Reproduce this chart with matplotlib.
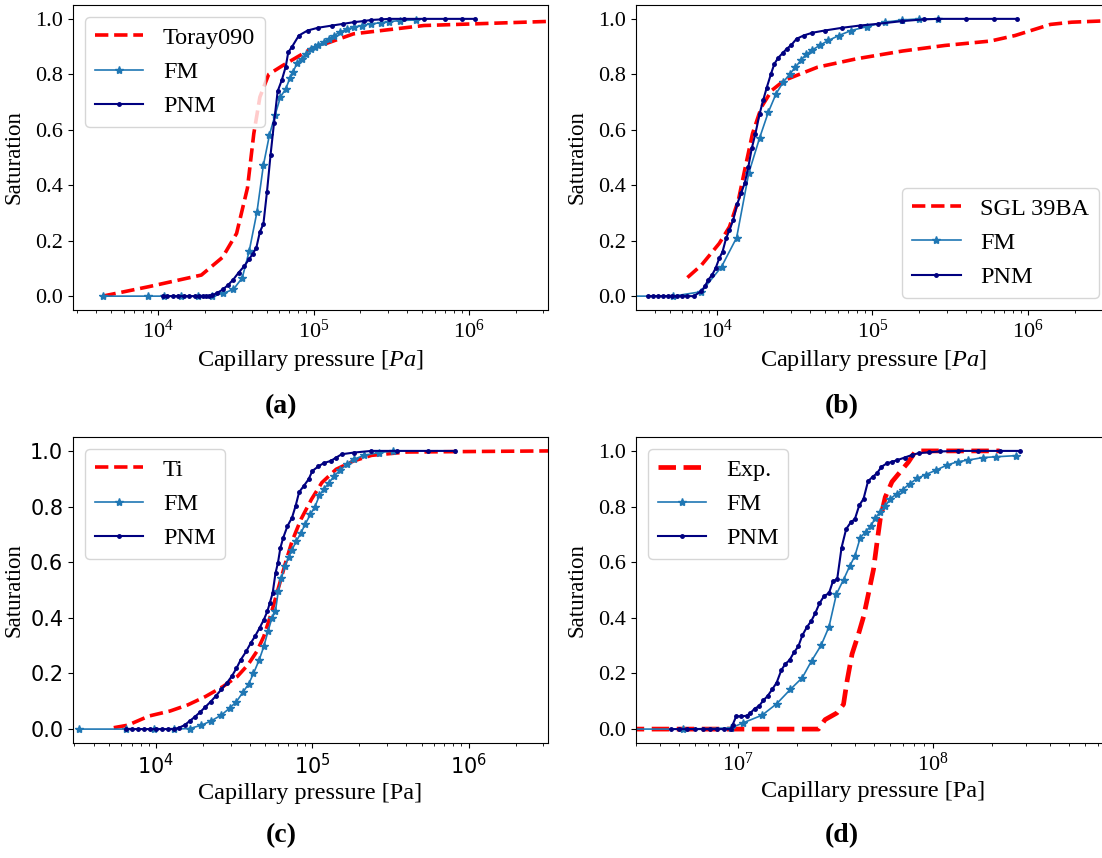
import matplotlib
matplotlib.use("Agg")
import matplotlib.pyplot as plt

plt.rcParams['font.family'] = ['Liberation Serif', 'DejaVu Serif']
plt.rcParams['mathtext.fontset'] = 'custom'
plt.rcParams['mathtext.rm'] = 'Liberation Serif'
plt.rcParams['mathtext.it'] = 'Liberation Serif:italic'

# ---- (a) Toray090 ----
toray_p = [4.4e3, 8.7e3, 1.9e4, 2.6e4, 3.2e4, 3.76e4, 4.13e4, 4.52e4, 5.15e4, 6.35e4,
           9.66e4, 1.81e5, 5.13e5, 3.3e6]
toray_s = [0.0, 0.034, 0.076, 0.14, 0.226, 0.39, 0.586, 0.718, 0.80, 0.832,
           0.892, 0.946, 0.976, 0.991]
fm_a_p = [4.4e3, 8.6e3, 1.1e4, 1.4e4, 1.8e4, 2.23e4, 2.61e4, 3.05e4, 3.48e4, 3.86e4,
          4.33e4, 4.76e4, 5.21e4, 5.67e4, 6.13e4, 6.63e4, 7.06e4, 7.4e4, 7.84e4,
          8.4e4, 8.93e4, 9.66e4, 1.02e5, 1.07e5, 1.16e5, 1.26e5, 1.36e5, 1.47e5,
          1.63e5, 1.81e5, 2.05e5, 2.35e5, 2.7e5, 3.06e5, 3.6e5, 4.54e5]
fm_a_s = [0.0, 0.0, 0.0, 0.0, 0.0, 0.0, 0.01, 0.024, 0.066, 0.163,
          0.304, 0.472, 0.582, 0.655, 0.718, 0.748, 0.787, 0.81, 0.84,
          0.856, 0.874, 0.892, 0.898, 0.904, 0.916, 0.928, 0.94, 0.952,
          0.962, 0.97, 0.976, 0.982, 0.986, 0.99, 0.994, 0.996]
pnm_a_p = [1.08e4, 1.15e4, 1.25e4, 1.35e4, 1.47e4, 1.59e4, 1.72e4, 1.84e4, 1.95e4, 2.05e4,
           2.12e4, 2.23e4, 2.41e4, 2.61e4, 2.82e4, 3.05e4, 3.3e4, 3.57e4, 3.86e4, 4.07e4,
           4.29e4, 4.52e4, 4.76e4, 5.02e4, 5.29e4, 5.57e4, 5.88e4, 6.26e4, 6.63e4, 6.88e4,
           7.25e4, 8.05e4, 9.16e4, 1.07e5, 1.32e5, 1.55e5, 1.81e5, 2.1e5, 2.35e5, 2.7e5,
           3.06e5, 3.8e5, 5.16e5, 7.0e5, 9.0e5, 1.1e6]
pnm_a_s = [0.0, 0.0, 0.0, 0.0, 0.0, 0.0, 0.0, 0.0, 0.0, 0.0,
           0.0, 0.003, 0.012, 0.024, 0.04, 0.06, 0.085, 0.107, 0.134, 0.153,
           0.175, 0.232, 0.26, 0.376, 0.508, 0.624, 0.739, 0.78, 0.828, 0.88,
           0.898, 0.94, 0.958, 0.968, 0.976, 0.982, 0.988, 0.992, 0.996, 0.998,
           1.0, 1.0, 1.0, 1.0, 1.0, 1.0]

# ---- (b) SGL 39BA ----
sgl_p = [6.5e3, 8.0e3, 1.04e4, 1.21e4, 1.38e4, 1.53e4, 1.7e4, 1.94e4, 2.26e4, 2.72e4,
         3.26e4, 4.46e4, 7.91e4, 1.56e5, 2.91e5, 5.73e5, 8.25e5, 1.07e6, 1.39e6, 1.9e6, 3.5e6]
sgl_s = [0.067, 0.112, 0.19, 0.25, 0.346, 0.466, 0.586, 0.682, 0.742, 0.778,
         0.796, 0.826, 0.856, 0.884, 0.904, 0.92, 0.94, 0.96, 0.98, 0.988, 0.994]
fm_b_p = [2.5e3, 5.27e3, 8.0e3, 1.076e4, 1.345e4, 1.61e4, 1.89e4, 2.15e4, 2.41e4, 2.68e4,
          2.94e4, 3.21e4, 3.47e4, 3.76e4, 4.12e4, 4.58e4, 5.21e4, 6.1e4, 7.31e4, 9.25e4,
          1.2e5, 1.56e5, 2.0e5, 2.62e5]
fm_b_s = [0.0, 0.0, 0.016, 0.106, 0.211, 0.444, 0.571, 0.664, 0.73, 0.772,
          0.80, 0.826, 0.85, 0.872, 0.888, 0.904, 0.922, 0.94, 0.958, 0.972,
          0.988, 0.996, 1.0, 1.0]
pnm_b_p = [3.62e3, 3.9e3, 4.2e3, 4.5e3, 4.85e3, 5.2e3, 5.6e3, 6.0e3, 6.5e3, 7.13e3,
           8.0e3, 8.42e3, 8.87e3, 9.35e3, 9.85e3, 1.04e4, 1.092e4, 1.15e4, 1.21e4, 1.277e4,
           1.36e4, 1.439e4, 1.517e4, 1.599e4, 1.684e4, 1.775e4, 1.89e4, 1.99e4, 2.096e4, 2.23e4,
           2.35e4, 2.49e4, 2.65e4, 2.82e4, 3.02e4, 3.26e4, 3.62e4, 4.12e4, 4.95e4, 6.43e4,
           8.34e4, 1.08e5, 1.56e5, 2.13e5, 2.62e5, 4.0e5, 6.0e5, 8.47e5]
pnm_b_s = [0.0, 0.0, 0.0, 0.0, 0.0, 0.0, 0.0, 0.0, 0.0, 0.0,
           0.018, 0.036, 0.06, 0.076, 0.10, 0.136, 0.16, 0.208, 0.238, 0.274,
           0.334, 0.372, 0.408, 0.466, 0.534, 0.586, 0.658, 0.706, 0.751, 0.80,
           0.838, 0.86, 0.876, 0.892, 0.906, 0.928, 0.94, 0.95, 0.958, 0.968,
           0.976, 0.982, 0.992, 0.998, 1.0, 1.0, 1.0, 1.0]

# ---- (c) Ti ----
ti_p = [5.36e3, 6.59e3, 9.01e3, 1.23e4, 1.596e4, 2.07e4, 2.68e4, 3.31e4, 3.87e4, 4.41e4,
        4.89e4, 5.42e4, 6.02e4, 6.68e4, 7.41e4, 8.45e4, 9.87e4, 1.15e5, 1.42e5, 1.84e5,
        2.39e5, 4.03e5, 3.3e6]
ti_s = [0.005, 0.014, 0.047, 0.065, 0.087, 0.117, 0.153, 0.189, 0.231, 0.279,
        0.333, 0.411, 0.501, 0.591, 0.675, 0.754, 0.826, 0.886, 0.934, 0.964,
        0.984, 0.996, 1.0]
fm_c_p = [3.21e3, 6.43e3, 9.75e3, 1.299e4, 1.64e4, 1.95e4, 2.26e4, 2.61e4, 2.95e4, 3.27e4,
          3.59e4, 3.91e4, 4.2e4, 4.57e4, 4.89e4, 5.2e4, 5.51e4, 5.8e4, 6.05e4, 6.34e4,
          6.68e4, 7.04e4, 7.41e4, 7.89e4, 8.45e4, 8.99e4, 9.72e4, 1.04e5, 1.11e5, 1.18e5,
          1.28e5, 1.38e5, 1.5e5, 1.66e5, 1.84e5, 2.15e5, 2.65e5, 3.27e5]
fm_c_s = [0.0, 0.0, 0.0, 0.0, 0.002, 0.014, 0.03, 0.05, 0.075, 0.099,
          0.132, 0.162, 0.20, 0.249, 0.297, 0.351, 0.399, 0.423, 0.495, 0.543,
          0.585, 0.619, 0.645, 0.675, 0.705, 0.736, 0.772, 0.80, 0.84, 0.862,
          0.886, 0.91, 0.93, 0.952, 0.97, 0.984, 0.994, 0.999]
pnm_c_p = [6.43e3, 7.0e3, 7.7e3, 8.4e3, 9.2e3, 1.0e4, 1.09e4, 1.19e4, 1.3e4, 1.4e4,
           1.52e4, 1.64e4, 1.77e4, 1.92e4, 2.07e4, 2.24e4, 2.42e4, 2.62e4, 2.83e4, 3.06e4,
           3.27e4, 3.48e4, 3.77e4, 4.03e4, 4.29e4, 4.59e4, 4.89e4, 5.15e4, 5.34e4, 5.57e4,
           5.81e4, 6.02e4, 6.24e4, 6.51e4, 6.93e4, 7.41e4, 7.81e4, 8.23e4, 8.81e4, 9.46e4,
           1.0e5, 1.09e5, 1.18e5, 1.31e5, 1.42e5, 1.54e5, 1.84e5, 2.39e5, 3.5e5, 5.5e5, 8.24e5]
pnm_c_s = [0.0, 0.0, 0.0, 0.0, 0.0, 0.0, 0.0, 0.0, 0.0, 0.005,
           0.014, 0.029, 0.044, 0.062, 0.08, 0.099, 0.12, 0.143, 0.165, 0.191,
           0.219, 0.249, 0.279, 0.309, 0.333, 0.363, 0.393, 0.423, 0.453, 0.489,
           0.561, 0.597, 0.651, 0.688, 0.73, 0.76, 0.802, 0.852, 0.874, 0.898,
           0.928, 0.944, 0.956, 0.964, 0.976, 0.988, 0.994, 1.0, 1.0, 1.0, 1.0]

# ---- (d) Exp. ----
exp_p = [2.0e6, 2.59e7, 2.8e7, 3.22e7, 3.48e7, 3.63e7, 3.85e7, 4.16e7, 4.41e7, 4.68e7,
         4.96e7, 5.17e7, 5.37e7, 5.7e7, 6.17e7, 6.81e7, 7.51e7, 8.13e7, 8.62e7, 2.2e8]
exp_s = [0.0, 0.0, 0.034, 0.058, 0.089, 0.173, 0.27, 0.343, 0.404, 0.489,
         0.574, 0.671, 0.755, 0.834, 0.889, 0.925, 0.961, 0.998, 1.0, 1.0]
fm_d_p = [2.5e6, 5.22e6, 9.2e6, 1.06e7, 1.33e7, 1.58e7, 1.86e7, 2.14e7, 2.39e7, 2.67e7,
          2.93e7, 3.2e7, 3.48e7, 3.74e7, 3.98e7, 4.24e7, 4.52e7, 4.81e7, 5.07e7, 5.38e7,
          5.69e7, 6.05e7, 6.53e7, 7.0e7, 7.62e7, 8.28e7, 9.2e7, 1.04e8, 1.18e8, 1.34e8,
          1.52e8, 1.8e8, 2.12e8, 2.67e8]
fm_d_s = [0.0, 0.0, 0.004, 0.022, 0.05, 0.091, 0.143, 0.185, 0.246, 0.301,
          0.367, 0.485, 0.537, 0.585, 0.622, 0.688, 0.709, 0.731, 0.758, 0.782,
          0.801, 0.828, 0.846, 0.861, 0.882, 0.901, 0.915, 0.931, 0.949, 0.961,
          0.967, 0.976, 0.979, 0.983]
pnm_d_p = [4.52e6, 5.0e6, 5.5e6, 6.0e6, 6.6e6, 7.2e6, 7.8e6, 8.5e6, 9.2e6, 9.4e6,
           9.8e6, 1.04e7, 1.11e7, 1.16e7, 1.22e7, 1.28e7, 1.35e7, 1.42e7, 1.5e7, 1.58e7,
           1.67e7, 1.75e7, 1.84e7, 1.94e7, 2.04e7, 2.14e7, 2.26e7, 2.38e7, 2.49e7, 2.62e7,
           2.77e7, 2.93e7, 3.07e7, 3.23e7, 3.4e7, 3.59e7, 3.79e7, 3.98e7, 4.19e7, 4.41e7,
           4.65e7, 4.91e7, 5.16e7, 5.45e7, 5.8e7, 6.18e7, 6.58e7, 7.16e7, 7.78e7, 8.46e7,
           9.59e7, 1.09e8, 1.34e8, 1.7e8, 2.2e8, 2.79e8]
pnm_d_s = [0.0, 0.0, 0.0, 0.0, 0.0, 0.0, 0.0, 0.0, 0.0, 0.016,
           0.046, 0.046, 0.048, 0.058, 0.074, 0.082, 0.103, 0.119, 0.143, 0.167,
           0.212, 0.234, 0.248, 0.276, 0.297, 0.337, 0.367, 0.389, 0.416, 0.452,
           0.479, 0.488, 0.531, 0.539, 0.652, 0.719, 0.743, 0.755, 0.804, 0.828,
           0.891, 0.907, 0.919, 0.943, 0.955, 0.961, 0.967, 0.976, 0.985, 0.992,
           0.995, 0.998, 1.0, 1.0, 1.0, 1.0]

W, H = 1102, 858
fig = plt.figure(figsize=(W / 100, H / 100), dpi=100)


def add_panel(left, top, bottom, width=475):
    return fig.add_axes([left / W, 1 - bottom / H, width / W, (bottom - top) / H])


def draw(ax, ref_p, ref_s, ref_label, fm_p, fm_s, pnm_p, pnm_s, xlim, ref_lw=2.6):
    ax.plot(ref_p, ref_s, '--', color='red', lw=ref_lw, label=ref_label)
    ax.plot(fm_p, fm_s, '-', marker='*', color='#1f77b4', lw=1.2, ms=6, label='FM')
    ax.plot(pnm_p, pnm_s, '-', marker='.', color='navy', lw=1.5, ms=5, label='PNM')
    ax.set_xscale('log')
    ax.set_xlim(*xlim)
    ax.set_ylim(-0.05, 1.05)
    ax.set_ylabel('Saturation', fontsize=16.5)
    ax.tick_params(labelsize=16)


ax_a = add_panel(73, 5, 310)
draw(ax_a, toray_p, toray_s, 'Toray090', fm_a_p, fm_a_s, pnm_a_p, pnm_a_s, (2.84e3, 3.22e6))
ax_a.set_xlabel('Capillary pressure [$Pa$]', fontsize=17.5)
ax_a.legend(loc='upper left', fontsize=17.5)

ax_b = add_panel(636, 5, 310)
draw(ax_b, sgl_p, sgl_s, 'SGL 39BA', fm_b_p, fm_b_s, pnm_b_p, pnm_b_s, (3.04e3, 3.4e6))
ax_b.set_xlabel('Capillary pressure [$Pa$]', fontsize=17.5)
ax_b.legend(loc='lower right', fontsize=17.5)

ax_c = add_panel(73, 437, 743)
draw(ax_c, ti_p, ti_s, 'Ti', fm_c_p, fm_c_s, pnm_c_p, pnm_c_s, (2.94e3, 3.22e6))
ax_c.set_xlabel('Capillary pressure [Pa]', fontsize=17.5)
ax_c.tick_params(labelsize=15, labelfontfamily='DejaVu Sans')
ax_c.legend(loc='upper left', fontsize=17.5)

ax_d = add_panel(636, 437, 743)
draw(ax_d, exp_p, exp_s, 'Exp.', fm_d_p, fm_d_s, pnm_d_p, pnm_d_s, (3.0e6, 8.2e8), ref_lw=3.4)
ax_d.set_xlabel('Capillary pressure [Pa]', fontsize=17.5)
ax_d.legend(loc='upper left', fontsize=17.5)

for ax in (ax_a, ax_b, ax_c, ax_d):
    ax.yaxis.set_label_coords(-0.102, 0.5)

captions = ['(a)', '(b)', '(c)', '(d)']
cap_xy = [(281, 407), (842, 407), (281, 836), (842, 836)]
for txt, (cx, cy) in zip(captions, cap_xy):
    fig.text(cx / W, 1 - cy / H, txt, ha='center', va='center', fontsize=20, fontweight='bold')

fig.savefig('out.png', dpi=100)
